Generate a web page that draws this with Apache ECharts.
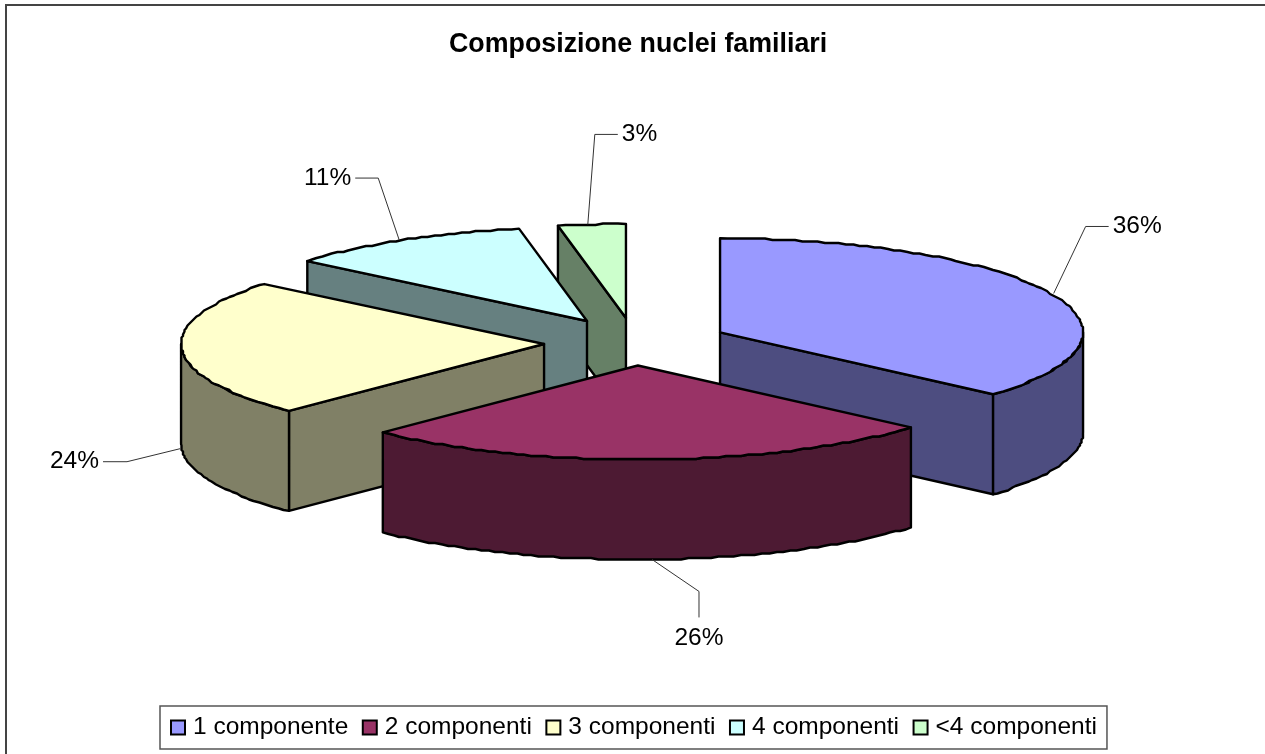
<!DOCTYPE html>
<html>
<head>
<meta charset="utf-8">
<style>html,body{margin:0;padding:0;background:#fff}#c{width:1265px;height:754px}</style>
<script src="https://cdn.jsdelivr.net/npm/echarts@6/dist/echarts.min.js"></script>
</head>
<body>
<div id="c"></div>
<script>
// data
var titleText = 'Composizione nuclei familiari';
var categories = ['1 componente', '2 componenti', '3 componenti', '4 componenti', '<4 componenti'];
var values = [36.45, 25.95, 23.6, 11, 3];
// styles
var topColors = ['#9999FF', '#993366', '#FFFFCC', '#CCFFFF', '#CCFFCC'];
var sideColors = ['#4D4D80', '#4D1A33', '#808066', '#668080', '#668066'];
// layout of the pseudo-3D pie
var pie = { cx: 636, cy: 342, rx: 363, ry: 94, depth: 100, explode: 0.25, grid: 1.5, step: 1.2 };
var apexNudge = [[1.4, 0], [-1.4, 0], [-1.3, 0.8], [-2.8, -0.8], [-1.5, -0.6]];
// leader lines: anchor on the rim (drop = down the wall), elbow and end offsets from the anchor
var leaderDrop = [0, 1, 1, 0, 0];
var leaderStartDx = [3, 1, -1.5, -3, -4];
var leaderElbow = [[32, -67], [47, 32], [-53, 13], [-21, -62], [7, -90]];
var leaderEnd = [[55, -67], [47, 58], [-77, 13], [-44, -62], [30, -90]];
var labelAlign = ['left', 'center', 'right', 'right', 'left'];
var labelGap = [[4, 0], [0, 21], [-4, 0], [-4, 0], [4, 0]];

var total = values.reduce(function (a, b) { return a + b; }, 0);
var starts = [];
values.reduce(function (acc, v, i) { starts[i] = acc; return acc + v; }, 0);
function rad(v) { return v / total * Math.PI * 2; }
function snap(v) { return Math.round(v / pie.grid) * pie.grid; }

function apexOf(i) {
  var mid = rad(starts[i] + values[i] / 2);
  return [pie.cx + pie.explode * pie.rx * Math.sin(mid) + apexNudge[i][0],
          pie.cy - pie.explode * pie.ry * Math.cos(mid) + apexNudge[i][1]];
}
function rim(a, t, dy) {
  return [a[0] + pie.rx * Math.sin(t), a[1] - pie.ry * Math.cos(t) + (dy || 0)];
}
function arcPoints(a, t0, t1, dy) {
  var pts = [], stepR = pie.step * Math.PI / 180, n = Math.max(1, Math.ceil((t1 - t0) / stepR));
  for (var k = 0; k <= n; k++) {
    var p = rim(a, t0 + (t1 - t0) * k / n, dy);
    if (k > 0 && k < n) { p = [snap(p[0]), snap(p[1])]; }
    pts.push(p);
  }
  return pts;
}
function poly(points, fill) {
  return { type: 'polygon', shape: { points: points }, style: { fill: fill, stroke: '#000', lineWidth: 2.4, lineJoin: 'round' } };
}
function renderSlice(i) {
  return function (params, api) {
    var val = api.value(0);
    var t0 = rad(starts[i]), t1 = rad(starts[i] + val), mid = (t0 + t1) / 2;
    var a = apexOf(i), d = pie.depth, children = [];
    var side = sideColors[i];
    // radial walls that face the viewer
    [rim(a, t0), rim(a, t1)].forEach(function (p) {
      var other = rim(a, mid);
      var dx = p[0] - a[0];
      if (Math.abs(dx) > 0.5 && ((other[1] - a[1]) - (p[1] - a[1]) / dx * (other[0] - a[0])) < 0) {
        children.push(poly([a, p, [p[0], p[1] + d], [a[0], a[1] + d]], side));
      }
    });
    // outer wall on the near half of the rim
    var w0 = Math.max(t0, Math.PI / 2), w1 = Math.min(t1, Math.PI * 1.5);
    if (w1 > w0) {
      var upper = arcPoints(a, w0, w1, 0), lower = arcPoints(a, w0, w1, d).reverse();
      children.push(poly(upper.concat(lower), side));
    }
    // top face
    children.push(poly([a].concat(arcPoints(a, t0, t1, 0)), topColors[i]));
    // leader and label
    var anchor = rim(a, mid, leaderDrop[i] * d);
    anchor[0] += leaderStartDx[i];
    var elbow = [anchor[0] + leaderElbow[i][0], anchor[1] + leaderElbow[i][1]];
    var end = [anchor[0] + leaderEnd[i][0], anchor[1] + leaderEnd[i][1]];
    children.push({ type: 'polyline', shape: { points: [anchor, elbow, end] }, style: { fill: 'none', stroke: '#333', lineWidth: 1 } });
    children.push({ type: 'text', style: {
      x: end[0] + labelGap[i][0], y: end[1] + labelGap[i][1], text: Math.round(val / total * 100) + '%',
      fill: '#000', font: '24.5px "Liberation Sans"', textAlign: labelAlign[i], textVerticalAlign: 'middle'
    } });
    return { type: 'group', children: children };
  };
}

var series = categories.map(function (name, i) {
  return {
    type: 'custom', name: name, coordinateSystem: 'none',
    data: [[values[i]]], renderItem: renderSlice(i), animation: false, silent: true,
    clip: false, itemStyle: { color: topColors[i] },
    z: 10 + Math.round(-Math.cos(rad(starts[i] + values[i] / 2)) * 5)
  };
});

var chart = echarts.init(document.getElementById('c'), null, { renderer: 'canvas' });
chart.setOption({
  backgroundColor: '#fff',
  animation: false,
  color: topColors,
  title: { text: titleText, left: 449, top: 31, padding: 0,
    textStyle: { fontFamily: 'Liberation Sans', fontWeight: 'bold', fontSize: 26.8, color: '#000' } },
  legend: {
    left: 160, top: 706, padding: [9, 10, 9, 10], itemGap: 13.5, itemWidth: 14, itemHeight: 14,
    icon: 'rect', borderColor: '#555', borderWidth: 1.5, backgroundColor: '#fff',
    itemStyle: { borderColor: '#000', borderWidth: 2 },
    textStyle: { fontFamily: 'Liberation Sans', fontSize: 24.5, color: '#000', padding: [0, 0, 0, 3] },
    data: categories
  },
  graphic: [{ type: 'polyline', shape: { points: [[6, 754], [6, 5], [1265, 5]] }, style: { fill: 'none', stroke: '#444', lineWidth: 2 }, silent: true }],
  series: series
});
</script>
</body>
</html>
